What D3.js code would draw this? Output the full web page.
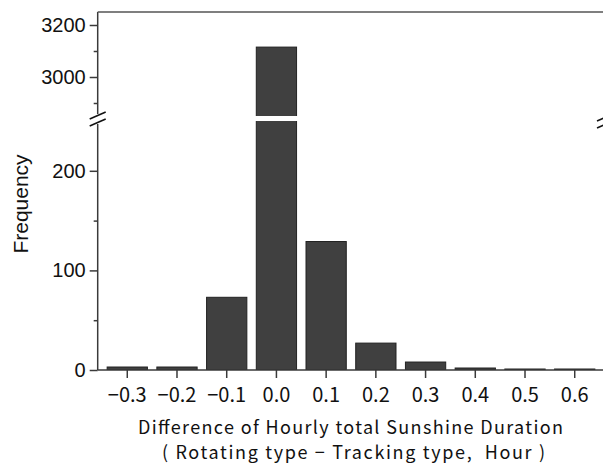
<!DOCTYPE html>
<html>
<head>
<meta charset="utf-8">
<script src="https://cdn.jsdelivr.net/npm/d3@7"></script>
<style>
  html, body { margin: 0; padding: 0; background: #fff; }
  svg { display: block; }
</style>
</head>
<body>
<script>
// Histogram of differences in hourly sunshine duration, with a broken y axis.
const categories = ["-0.3", "-0.2", "-0.1", "0.0", "0.1", "0.2", "0.3", "0.4", "0.5", "0.6"];
const frequencies = [3, 3, 73, 3115, 129, 27, 8, 2, 1, 1];
const upperTicks = [3000, 3200];
const upperMinor = [2900, 3100];
const lowerTicks = [0, 100, 200];
const lowerMinor = [50, 150];
const yLabel = "Frequency";
const xTitle1 = "Difference of Hourly total Sunshine Duration";
const xTitle2 = "( Rotating type − Tracking type,  Hour )";

const W = 603, H = 464;
const left = 97.7, right = 604.3;
const upperDomain = [2850, 3250], upperRange = [116, 12];
const lowerDomain = [0, 250], lowerRange = [370, 121];

const svg = d3.select("body").append("svg").attr("width", W).attr("height", H);

const x = d3.scaleBand().domain(categories).range([left, right]).padding(0.19);
const yUp = d3.scaleLinear().domain(upperDomain).range(upperRange);
const yLo = d3.scaleLinear().domain(lowerDomain).range(lowerRange);

const axisColor = "#3a3a3a";
const barFill = "#404040";
const barStroke = "#222";
const numFont = "'Liberation Sans', Arial, sans-serif";
const jpFont = "'Noto Sans CJK JP', sans-serif";

// clip paths per panel
const defs = svg.append("defs");
defs.append("clipPath").attr("id", "clipUp").append("rect")
  .attr("x", left).attr("y", upperRange[1]).attr("width", right - left).attr("height", upperRange[0] - upperRange[1]);
defs.append("clipPath").attr("id", "clipLo").append("rect")
  .attr("x", left).attr("y", lowerRange[1]).attr("width", right - left).attr("height", lowerRange[0] - lowerRange[1]);

const data = categories.map((c, i) => ({ c, v: frequencies[i] }));

// lower panel bars
svg.append("g").attr("clip-path", "url(#clipLo)")
  .selectAll("rect").data(data).join("rect")
  .attr("x", d => x(d.c)).attr("width", x.bandwidth())
  .attr("y", d => yLo(Math.min(d.v, lowerDomain[1] + 5)))
  .attr("height", d => yLo(0) - yLo(Math.min(d.v, lowerDomain[1] + 5)))
  .attr("fill", barFill).attr("stroke", barStroke).attr("stroke-width", 1);

// upper panel bars (only those reaching it)
svg.append("g").attr("clip-path", "url(#clipUp)")
  .selectAll("rect").data(data.filter(d => d.v > upperDomain[0])).join("rect")
  .attr("x", d => x(d.c)).attr("width", x.bandwidth())
  .attr("y", d => yUp(d.v))
  .attr("height", d => yUp(upperDomain[0] - 5) - yUp(d.v))
  .attr("fill", barFill).attr("stroke", barStroke).attr("stroke-width", 1);

function styleAxis(g) {
  g.selectAll("path, line").attr("stroke", axisColor).attr("stroke-width", 1.5);
}

// y axes: major ticks with labels
const fmt = d3.format("d");
const gUp = svg.append("g").attr("transform", `translate(${left},0)`)
  .call(d3.axisLeft(yUp).tickValues(upperTicks).tickFormat(fmt).tickSize(8).tickSizeOuter(0).tickPadding(4));
const gLo = svg.append("g").attr("transform", `translate(${left},0)`)
  .call(d3.axisLeft(yLo).tickValues(lowerTicks).tickFormat(fmt).tickSize(8).tickSizeOuter(0).tickPadding(4));
[gUp, gLo].forEach(g => {
  styleAxis(g);
  g.selectAll("text").attr("font-family", numFont).attr("font-size", 20).attr("fill", "#111");
});
gUp.select(".domain").remove();
gLo.select(".domain").remove();

// minor y ticks
svg.append("g").attr("transform", `translate(${left},0)`)
  .call(d3.axisLeft(yUp).tickValues(upperMinor).tickSize(4).tickSizeOuter(0).tickFormat(""))
  .call(g => g.select(".domain").remove()).call(styleAxis);
svg.append("g").attr("transform", `translate(${left},0)`)
  .call(d3.axisLeft(yLo).tickValues(lowerMinor).tickSize(4).tickSizeOuter(0).tickFormat(""))
  .call(g => g.select(".domain").remove()).call(styleAxis);

// y axis spine, broken between panels
svg.append("line").attr("x1", left).attr("x2", left).attr("y1", upperRange[1]).attr("y2", 114)
  .attr("stroke", axisColor).attr("stroke-width", 1.5);
svg.append("line").attr("x1", left).attr("x2", left).attr("y1", 124).attr("y2", lowerRange[0])
  .attr("stroke", axisColor).attr("stroke-width", 1.5);

// top frame
svg.append("line").attr("x1", left).attr("x2", W).attr("y1", upperRange[1]).attr("y2", upperRange[1])
  .attr("stroke", "#555").attr("stroke-width", 1.6);

// x axis
const gx = svg.append("g").attr("transform", `translate(0,${lowerRange[0]})`)
  .call(d3.axisBottom(x).tickSize(8).tickSizeOuter(0).tickPadding(10)
    .tickFormat(d => d.replace("-", "\u2212")));
styleAxis(gx);
gx.select(".domain").attr("d", `M${left},0H${W}`);
gx.selectAll("text").attr("font-family", jpFont).attr("font-size", 20).attr("fill", "#111");

// break marks
function breakMarks(cx, cy) {
  [-3.5, 3.5].forEach(off => {
    svg.append("line")
      .attr("x1", cx - 8).attr("y1", cy + off + 3.5)
      .attr("x2", cx + 8).attr("y2", cy + off - 3.5)
      .attr("stroke", "#111").attr("stroke-width", 1.6);
  });
}
breakMarks(left, 119);
breakMarks(605, 121);

// labels
svg.append("text").attr("transform", "translate(28,204) rotate(-90)")
  .attr("text-anchor", "middle").attr("font-family", numFont).attr("font-size", 21)
  .attr("fill", "#111").text(yLabel);
svg.append("text").attr("x", 350.5).attr("y", 434).attr("text-anchor", "middle")
  .attr("font-family", jpFont).attr("font-size", 18).attr("fill", "#111")
  .attr("textLength", 425).attr("lengthAdjust", "spacing").text(xTitle1);
svg.append("text").attr("x", 353.5).attr("y", 459).attr("text-anchor", "middle")
  .attr("font-family", jpFont).attr("font-size", 18).attr("fill", "#111")
  .style("white-space", "pre")
  .attr("textLength", 383).attr("lengthAdjust", "spacing").text(xTitle2);
</script>
</body>
</html>
